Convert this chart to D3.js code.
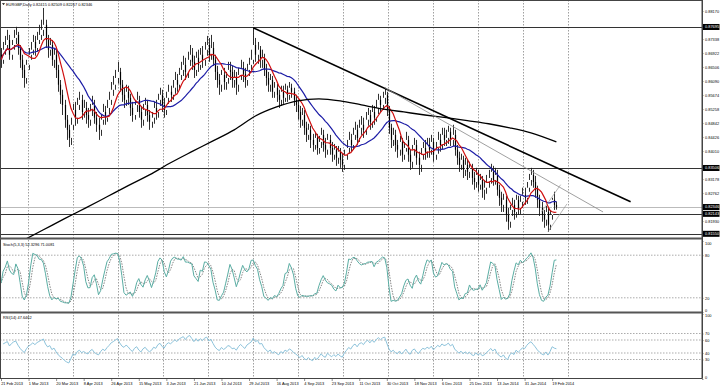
<!DOCTYPE html>
<html>
<head>
<meta charset="utf-8">
<title>EURGBP Daily</title>
<script src="https://d3js.org/d3.v7.min.js"></script>
<style>
  body { margin: 0; background: #fff; }
  svg { display: block; font-family: "Liberation Sans", Arial, sans-serif; }
  text { font-size: 3.9px; fill: #000; }
</style>
</head>
<body>
<script>
// EURGBP daily bars (open = previous close)
const firstOpen = 0.8687;
const closes = [
  0.8672, 0.8702, 0.8716, 0.8731, 0.8687, 0.8716, 0.8737, 0.8746, 0.8707, 0.8672,
  0.8642, 0.8618, 0.8657, 0.8687, 0.8702, 0.8725, 0.8707, 0.8731, 0.8746, 0.8761,
  0.8776, 0.8731, 0.8702, 0.8716, 0.8672, 0.8687, 0.8642, 0.8598, 0.8568, 0.8538,
  0.8494, 0.8464, 0.8440, 0.8479, 0.8523, 0.8500, 0.8538, 0.8553, 0.8517, 0.8529,
  0.8508, 0.8494, 0.8523, 0.8538, 0.8500, 0.8479, 0.8464, 0.8494, 0.8517, 0.8500,
  0.8529, 0.8553, 0.8583, 0.8598, 0.8618, 0.8636, 0.8598, 0.8568, 0.8553, 0.8577,
  0.8559, 0.8529, 0.8508, 0.8538, 0.8553, 0.8517, 0.8494, 0.8523, 0.8538, 0.8508,
  0.8488, 0.8500, 0.8529, 0.8517, 0.8553, 0.8568, 0.8538, 0.8523, 0.8559, 0.8577,
  0.8568, 0.8589, 0.8612, 0.8598, 0.8627, 0.8642, 0.8657, 0.8636, 0.8672, 0.8687,
  0.8666, 0.8642, 0.8678, 0.8657, 0.8687, 0.8672, 0.8702, 0.8716, 0.8687, 0.8707,
  0.8672, 0.8636, 0.8612, 0.8598, 0.8627, 0.8606, 0.8618, 0.8642, 0.8636, 0.8612,
  0.8618, 0.8598, 0.8627, 0.8648, 0.8630, 0.8612, 0.8642, 0.8657, 0.8672, 0.8716,
  0.8687, 0.8702, 0.8672, 0.8678, 0.8642, 0.8618, 0.8598, 0.8612, 0.8577, 0.8589,
  0.8568, 0.8553, 0.8577, 0.8559, 0.8583, 0.8568, 0.8589, 0.8577, 0.8553, 0.8538,
  0.8517, 0.8494, 0.8508, 0.8470, 0.8449, 0.8464, 0.8434, 0.8419, 0.8440, 0.8410,
  0.8428, 0.8449, 0.8419, 0.8405, 0.8434, 0.8410, 0.8390, 0.8405, 0.8381, 0.8399,
  0.8375, 0.8360, 0.8390, 0.8410, 0.8434, 0.8419, 0.8449, 0.8464, 0.8440, 0.8470,
  0.8479, 0.8464, 0.8494, 0.8508, 0.8488, 0.8517, 0.8500, 0.8529, 0.8553, 0.8538,
  0.8559, 0.8568, 0.8523, 0.8470, 0.8434, 0.8449, 0.8419, 0.8405, 0.8428, 0.8390,
  0.8410, 0.8434, 0.8390, 0.8369, 0.8405, 0.8419, 0.8381, 0.8360, 0.8390, 0.8410,
  0.8399, 0.8419, 0.8405, 0.8428, 0.8390, 0.8410, 0.8434, 0.8419, 0.8449, 0.8434,
  0.8440, 0.8458, 0.8434, 0.8449, 0.8405, 0.8381, 0.8360, 0.8375, 0.8345, 0.8360,
  0.8339, 0.8351, 0.8321, 0.8309, 0.8330, 0.8301, 0.8315, 0.8286, 0.8292, 0.8309,
  0.8321, 0.8339, 0.8315, 0.8330, 0.8286, 0.8262, 0.8241, 0.8256, 0.8211, 0.8191,
  0.8226, 0.8241, 0.8220, 0.8256, 0.8232, 0.8250, 0.8271, 0.8262, 0.8292, 0.8315,
  0.8330, 0.8309, 0.8286, 0.8256, 0.8232, 0.8211, 0.8197, 0.8220, 0.8182, 0.8211,
  0.8256, 0.8241, 0.82346
];
const highs = [
  0.8707, 0.8725, 0.8743, 0.8761, 0.8746, 0.8731, 0.8761, 0.8770, 0.8755, 0.8716,
  0.8687, 0.8657, 0.8672, 0.8707, 0.8725, 0.8746, 0.8743, 0.8755, 0.8776, 0.8791,
  0.8826, 0.8791, 0.8746, 0.8737, 0.8731, 0.8707, 0.8702, 0.8657, 0.8612, 0.8583,
  0.8553, 0.8508, 0.8479, 0.8500, 0.8541, 0.8547, 0.8559, 0.8577, 0.8568, 0.8553,
  0.8547, 0.8529, 0.8541, 0.8565, 0.8553, 0.8517, 0.8500, 0.8511, 0.8541, 0.8535,
  0.8553, 0.8577, 0.8606, 0.8624, 0.8642, 0.8666, 0.8648, 0.8612, 0.8589, 0.8598,
  0.8595, 0.8571, 0.8547, 0.8553, 0.8577, 0.8565, 0.8535, 0.8541, 0.8559, 0.8553,
  0.8523, 0.8517, 0.8547, 0.8553, 0.8571, 0.8589, 0.8583, 0.8559, 0.8577, 0.8598,
  0.8595, 0.8612, 0.8636, 0.8630, 0.8648, 0.8666, 0.8684, 0.8678, 0.8696, 0.8716,
  0.8707, 0.8684, 0.8696, 0.8702, 0.8707, 0.8713, 0.8725, 0.8743, 0.8737, 0.8746,
  0.8725, 0.8687, 0.8654, 0.8630, 0.8642, 0.8648, 0.8636, 0.8666, 0.8666, 0.8654,
  0.8642, 0.8636, 0.8648, 0.8672, 0.8666, 0.8648, 0.8660, 0.8678, 0.8702, 0.8767,
  0.8737, 0.8725, 0.8713, 0.8702, 0.8690, 0.8660, 0.8636, 0.8630, 0.8624, 0.8606,
  0.8601, 0.8583, 0.8595, 0.8595, 0.8601, 0.8595, 0.8606, 0.8601, 0.8589, 0.8568,
  0.8553, 0.8535, 0.8529, 0.8523, 0.8488, 0.8482, 0.8476, 0.8452, 0.8458, 0.8452,
  0.8446, 0.8470, 0.8464, 0.8440, 0.8452, 0.8449, 0.8428, 0.8422, 0.8416, 0.8416,
  0.8410, 0.8393, 0.8405, 0.8434, 0.8458, 0.8452, 0.8470, 0.8488, 0.8479, 0.8494,
  0.8505, 0.8500, 0.8517, 0.8529, 0.8523, 0.8538, 0.8535, 0.8553, 0.8571, 0.8565,
  0.8577, 0.8589, 0.8577, 0.8535, 0.8482, 0.8470, 0.8464, 0.8434, 0.8446, 0.8440,
  0.8428, 0.8458, 0.8446, 0.8405, 0.8419, 0.8440, 0.8434, 0.8399, 0.8410, 0.8428,
  0.8434, 0.8440, 0.8440, 0.8449, 0.8440, 0.8428, 0.8458, 0.8452, 0.8470, 0.8470,
  0.8464, 0.8476, 0.8470, 0.8479, 0.8464, 0.8419, 0.8399, 0.8393, 0.8387, 0.8381,
  0.8375, 0.8369, 0.8363, 0.8339, 0.8351, 0.8345, 0.8333, 0.8327, 0.8315, 0.8330,
  0.8345, 0.8363, 0.8357, 0.8351, 0.8345, 0.8301, 0.8280, 0.8274, 0.8268, 0.8232,
  0.8241, 0.8262, 0.8256, 0.8271, 0.8268, 0.8268, 0.8292, 0.8292, 0.8309, 0.8333,
  0.8351, 0.8345, 0.8327, 0.8298, 0.8271, 0.8250, 0.8226, 0.8238, 0.8232, 0.8226,
  0.8262, 0.8280, 0.82509
];
const lows = [
  0.8648, 0.8660, 0.8687, 0.8702, 0.8672, 0.8672, 0.8702, 0.8719, 0.8687, 0.8648,
  0.8618, 0.8589, 0.8601, 0.8642, 0.8672, 0.8687, 0.8684, 0.8696, 0.8719, 0.8731,
  0.8743, 0.8707, 0.8678, 0.8684, 0.8654, 0.8648, 0.8618, 0.8577, 0.8541, 0.8508,
  0.8470, 0.8434, 0.8413, 0.8419, 0.8464, 0.8476, 0.8482, 0.8523, 0.8494, 0.8500,
  0.8482, 0.8470, 0.8476, 0.8505, 0.8482, 0.8458, 0.8434, 0.8446, 0.8479, 0.8479,
  0.8488, 0.8511, 0.8538, 0.8565, 0.8583, 0.8601, 0.8577, 0.8547, 0.8529, 0.8535,
  0.8538, 0.8505, 0.8488, 0.8494, 0.8517, 0.8500, 0.8470, 0.8476, 0.8505, 0.8488,
  0.8464, 0.8470, 0.8482, 0.8494, 0.8500, 0.8535, 0.8517, 0.8500, 0.8508, 0.8541,
  0.8547, 0.8553, 0.8571, 0.8577, 0.8583, 0.8612, 0.8624, 0.8612, 0.8618, 0.8654,
  0.8642, 0.8618, 0.8624, 0.8636, 0.8642, 0.8648, 0.8654, 0.8684, 0.8666, 0.8672,
  0.8654, 0.8612, 0.8589, 0.8568, 0.8577, 0.8583, 0.8583, 0.8601, 0.8612, 0.8589,
  0.8589, 0.8568, 0.8577, 0.8612, 0.8606, 0.8589, 0.8595, 0.8624, 0.8642, 0.8660,
  0.8666, 0.8660, 0.8648, 0.8648, 0.8624, 0.8595, 0.8577, 0.8577, 0.8559, 0.8559,
  0.8547, 0.8529, 0.8535, 0.8541, 0.8547, 0.8547, 0.8553, 0.8559, 0.8535, 0.8517,
  0.8494, 0.8470, 0.8476, 0.8449, 0.8428, 0.8434, 0.8410, 0.8399, 0.8405, 0.8390,
  0.8393, 0.8410, 0.8399, 0.8381, 0.8390, 0.8390, 0.8369, 0.8375, 0.8357, 0.8363,
  0.8351, 0.8339, 0.8345, 0.8375, 0.8393, 0.8399, 0.8405, 0.8434, 0.8419, 0.8428,
  0.8449, 0.8440, 0.8449, 0.8476, 0.8464, 0.8470, 0.8479, 0.8488, 0.8511, 0.8517,
  0.8523, 0.8541, 0.8505, 0.8452, 0.8410, 0.8416, 0.8399, 0.8381, 0.8387, 0.8369,
  0.8375, 0.8399, 0.8369, 0.8345, 0.8351, 0.8387, 0.8360, 0.8330, 0.8339, 0.8375,
  0.8375, 0.8381, 0.8381, 0.8390, 0.8369, 0.8375, 0.8393, 0.8399, 0.8405, 0.8416,
  0.8416, 0.8422, 0.8416, 0.8416, 0.8387, 0.8360, 0.8339, 0.8345, 0.8321, 0.8327,
  0.8315, 0.8321, 0.8301, 0.8286, 0.8292, 0.8280, 0.8286, 0.8262, 0.8256, 0.8274,
  0.8292, 0.8304, 0.8298, 0.8301, 0.8268, 0.8238, 0.8220, 0.8220, 0.8191, 0.8167,
  0.8173, 0.8208, 0.8197, 0.8203, 0.8211, 0.8214, 0.8232, 0.8241, 0.8244, 0.8280,
  0.8298, 0.8292, 0.8262, 0.8232, 0.8208, 0.8191, 0.8173, 0.8179, 0.8161, 0.8167,
  0.8197, 0.8226, 0.82267
];

// 200-day moving average, read at every 10th bar (it runs in from the bottom left)
const ma200Bars = [10, 20, 30, 40, 50, 60, 70, 80, 90, 100, 110, 120, 130, 140, 150, 160, 170, 180, 190, 200, 210, 220, 230, 240, 250, 262];
const ma200Vals = [0.8134, 0.8167, 0.8200, 0.8232, 0.8265, 0.8298, 0.8330, 0.8366, 0.8399, 0.8431, 0.8464, 0.8505, 0.8532,
                   0.8550, 0.8556, 0.8550, 0.8538, 0.8526, 0.8517, 0.8508, 0.8500, 0.8491, 0.8482, 0.8470, 0.8455, 0.8428];

// drawn objects: [bar, price] end points
const mainTrend = [[119, 0.8767], [297, 0.8250]];
const innerTrend = [[181, 0.8589], [284, 0.8220]];
const channelA = [[255, 0.8220], [264, 0.8301]];
const channelB = [[258, 0.8161], [267, 0.8244]];
const levels = [0.87695, 0.83506, 0.82143, 0.81550];
const lastPrice = 0.82346;

const priceTicks = [0.88170, 0.87754, 0.87338, 0.86922, 0.86506, 0.86090, 0.85674, 0.85258, 0.84842,
                    0.84426, 0.84010, 0.83594, 0.83178, 0.82762, 0.81930];
const dateBars = [0, 13, 26, 39, 52, 65, 78, 91, 104, 117, 130, 143, 156, 169, 182, 195, 208, 221, 234, 247, 260];
const dateLabels = ["21 Feb 2013", "1 Mar 2013", "20 Mar 2013", "8 Apr 2013", "26 Apr 2013", "15 May 2013", "3 Jun 2013",
  "21 Jun 2013", "10 Jul 2013", "29 Jul 2013", "16 Aug 2013", "4 Sep 2013", "23 Sep 2013", "11 Oct 2013", "30 Oct 2013",
  "18 Nov 2013", "6 Dec 2013", "25 Dec 2013", "13 Jan 2014", "31 Jan 2014", "19 Feb 2014"];
const stochLevels = [80, 20];
const rsiLevels = [70, 60, 40, 30];

const title = "EURGBP,Daily  0.82415 0.82509 0.82267 0.82346";
const stochTitle = "Stoch(5,3,3) 52.3296 71.0081";
const rsiTitle = "RSI(14) 47.6462";

// ---- indicators
const N = closes.length;
const bars = closes.map((c, i) => ({ i, o: i ? closes[i - 1] : firstOpen, h: highs[i], l: lows[i], c }));

function sma(arr, n) {
  return arr.map((_, i) => d3.mean(arr.slice(Math.max(0, i - n + 1), i + 1)));
}
const maFast = sma(closes, 8);
const maSlow = sma(closes, 21);

const lowK = closes.map((_, i) => d3.min(lows.slice(Math.max(0, i - 4), i + 1)));
const highK = closes.map((_, i) => d3.max(highs.slice(Math.max(0, i - 4), i + 1)));
const stochMain = closes.map((_, i) => {
  let num = 0, den = 0;
  for (let j = Math.max(0, i - 2); j <= i; j++) { num += closes[j] - lowK[j]; den += highK[j] - lowK[j]; }
  return den ? 100 * num / den : 50;
});
const stochSignal = sma(stochMain, 3);

// RSI 14, Wilder smoothing; warm-up starts neutral from the mean move of the first 14 bars
const moves = d3.range(1, 15).map(i => Math.abs(closes[i] - closes[i - 1]));
let avgG = d3.mean(moves) / 2, avgL = d3.mean(moves) / 2;
const rsi = [];
for (let i = 1; i < N; i++) {
  const ch = closes[i] - closes[i - 1];
  avgG = (avgG * 13 + Math.max(ch, 0)) / 14;
  avgL = (avgL * 13 + Math.max(-ch, 0)) / 14;
  rsi.push({ i, v: avgL === 0 ? 100 : 100 - 100 / (1 + avgG / avgL) });
}

// ---- layout
const width = 720, height = 387;
const plotR = 702;
const mainB = 238, stochT = 239.5, stochB = 312, rsiT = 313.5, rsiB = 378.5;

const svg = d3.select("body").append("svg").attr("width", width).attr("height", height);

const x = d3.scaleLinear().domain([0, 262]).range([1, 556.4]);
const y = d3.scaleLinear().domain([0.814258, 0.884968]).range([mainB, 0]);
const yS = d3.scaleLinear().domain([0, 100]).range([312, 241]);
const yR = d3.scaleLinear().domain([0, 100]).range([379, 314]);

const defs = svg.append("defs");
defs.append("clipPath").attr("id", "cMain").append("rect").attr("x", 0).attr("y", 0).attr("width", plotR).attr("height", mainB);
defs.append("clipPath").attr("id", "cStoch").append("rect").attr("x", 0).attr("y", stochT).attr("width", plotR).attr("height", stochB - stochT);
defs.append("clipPath").attr("id", "cRsi").append("rect").attr("x", 0).attr("y", rsiT).attr("width", plotR).attr("height", rsiB - rsiT);

// vertical dotted grid
const gridX = d3.range(13).map(k => 28.5 + 45 * k);
svg.append("g").selectAll("line").data(gridX).join("line")
  .attr("x1", d => d).attr("x2", d => d).attr("y1", 0).attr("y2", rsiB)
  .attr("stroke", "#777").attr("stroke-width", 0.7).attr("stroke-dasharray", "1.5,1.5");

// ---- main panel
const main = svg.append("g").attr("clip-path", "url(#cMain)");

main.selectAll("line.level").data(levels).join("line").attr("class", "level")
  .attr("x1", 0).attr("x2", plotR)
  .attr("y1", d => Math.round(y(d)) + 0.5).attr("y2", d => Math.round(y(d)) + 0.5)
  .attr("stroke", "#333").attr("stroke-width", 1);
main.append("line")
  .attr("x1", 0).attr("x2", plotR)
  .attr("y1", Math.round(y(lastPrice)) + 0.5).attr("y2", Math.round(y(lastPrice)) + 0.5)
  .attr("stroke", "#bbb").attr("stroke-width", 1);

const px = d => Math.round(x(d.i));
main.append("g").selectAll("line").data(bars).join("line")
  .attr("x1", d => px(d) + 0.5).attr("x2", d => px(d) + 0.5)
  .attr("y1", d => y(d.h)).attr("y2", d => y(d.l))
  .attr("stroke", "#1a1a1a").attr("stroke-width", 0.9);
main.append("g").selectAll("rect").data(bars).join("rect")
  .attr("x", d => px(d) - 0.1).attr("width", 1.2)
  .attr("y", d => y(Math.max(d.o, d.c)))
  .attr("height", d => Math.max(0.6, Math.abs(y(d.o) - y(d.c))))
  .attr("fill", d => d.c >= d.o ? "#fff" : "#000");

const priceLine = d3.line().x((d, i) => x(i)).y(d => y(d));
main.append("path").datum(maSlow).attr("d", priceLine).attr("fill", "none").attr("stroke", "#1c1ca6").attr("stroke-width", 1.2);
main.append("path").datum(maFast).attr("d", priceLine).attr("fill", "none").attr("stroke", "#d01010").attr("stroke-width", 1.2);

const ma200 = ma200Bars.map((b, k) => [b, ma200Vals[k]]);
main.append("path").datum(ma200)
  .attr("d", d3.line().x(d => x(d[0])).y(d => y(d[1])).curve(d3.curveMonotoneX))
  .attr("fill", "none").attr("stroke", "#000").attr("stroke-width", 1.3);

const seg = d3.line().x(d => x(d[0])).y(d => y(d[1]));
main.append("path").datum(mainTrend).attr("d", seg).attr("stroke", "#000").attr("stroke-width", 1.6);
main.append("path").datum(innerTrend).attr("d", seg).attr("stroke", "#888").attr("stroke-width", 0.8);
main.append("path").datum(channelA).attr("d", seg).attr("stroke", "#999").attr("stroke-width", 0.7);
main.append("path").datum(channelB).attr("d", seg).attr("stroke", "#999").attr("stroke-width", 0.7);

svg.append("path").attr("d", "M2,3.2 L5,3.2 L3.5,5 Z").attr("fill", "#000");
svg.append("text").attr("x", 6).attr("y", 6).text(title);

// ---- stochastic panel
const stoch = svg.append("g").attr("clip-path", "url(#cStoch)");
stoch.selectAll("line").data(stochLevels).join("line")
  .attr("x1", 0).attr("x2", plotR).attr("y1", d => yS(d)).attr("y2", d => yS(d))
  .attr("stroke", "#888").attr("stroke-width", 0.7).attr("stroke-dasharray", "1.5,1.5");
const sLine = d3.line().x((d, i) => x(i)).y(d => yS(d));
stoch.append("path").datum(stochSignal).attr("d", sLine).attr("fill", "none")
  .attr("stroke", "#666").attr("stroke-width", 0.8).attr("stroke-dasharray", "1.5,1.2");
stoch.append("path").datum(stochMain).attr("d", sLine).attr("fill", "none")
  .attr("stroke", "#5aada3").attr("stroke-width", 1);
svg.append("text").attr("x", 3).attr("y", 246).text(stochTitle);

// ---- RSI panel
const rsiG = svg.append("g").attr("clip-path", "url(#cRsi)");
rsiG.selectAll("line").data(rsiLevels).join("line")
  .attr("x1", 0).attr("x2", plotR).attr("y1", d => yR(d)).attr("y2", d => yR(d))
  .attr("stroke", "#888").attr("stroke-width", 0.7).attr("stroke-dasharray", "1.5,1.5");
rsiG.append("path").datum(rsi)
  .attr("d", d3.line().x(d => x(d.i)).y(d => yR(d.v)))
  .attr("fill", "none").attr("stroke", "#8cc2da").attr("stroke-width", 1);
svg.append("text").attr("x", 3).attr("y", 319).text(rsiTitle);

// ---- frames and separators
svg.append("rect").attr("x", 0.5).attr("y", 0.5).attr("width", plotR - 0.5).attr("height", rsiB - 0.5)
  .attr("fill", "none").attr("stroke", "#444").attr("stroke-width", 1);
[mainB + 0.5, stochB + 0.5].forEach(v => {
  svg.append("line").attr("x1", 0).attr("x2", plotR).attr("y1", v).attr("y2", v)
    .attr("stroke", "#555").attr("stroke-width", 2);
});

// ---- right axes
const axisStyle = g => {
  g.select(".domain").remove();
  g.selectAll(".tick line").attr("stroke", "#444").attr("stroke-width", 0.6);
  g.selectAll(".tick text").attr("font-size", "3.9px").attr("fill", "#000");
};
const tagData = levels.concat([lastPrice]);
// regular price labels hidden behind a tag are left out
const freeTicks = priceTicks.filter(t => tagData.every(p => Math.abs(y(t) - y(p)) > 6));
svg.append("g").attr("transform", `translate(${plotR},0)`)
  .call(d3.axisRight(y).tickValues(freeTicks).tickFormat(d3.format(".5f")).tickSize(1.5).tickPadding(1.5))
  .call(axisStyle);

const tags = svg.append("g").attr("transform", `translate(${plotR},0)`);
tags.selectAll("rect").data(tagData).join("rect")
  .attr("x", 0.5).attr("y", d => y(d) - 3).attr("width", 17).attr("height", 6).attr("fill", "#000");
tags.selectAll("text").data(tagData).join("text")
  .attr("x", 3).attr("y", d => y(d)).attr("dy", "0.35em")
  .style("fill", "#fff").text(d => d3.format(".5f")(d));

svg.append("g").attr("transform", `translate(${plotR},0)`)
  .call(d3.axisRight(yS).tickValues([100, 80, 20, 0]).tickSize(1.5).tickPadding(1.5))
  .call(axisStyle)
  .call(g => g.selectAll(".tick text").attr("dy", d => d === 100 ? "0.9em" : d === 0 ? "-0.2em" : "0.32em"));
svg.append("g").attr("transform", `translate(${plotR},0)`)
  .call(d3.axisRight(yR).tickValues([100, 70, 60, 40, 30, 0]).tickSize(1.5).tickPadding(1.5))
  .call(axisStyle)
  .call(g => g.selectAll(".tick text").attr("dy", d => d === 100 ? "0.7em" : d === 0 ? "-0.1em" : "0.32em"));

svg.append("line").attr("x1", plotR + 0.5).attr("x2", plotR + 0.5).attr("y1", 0).attr("y2", rsiB)
  .attr("stroke", "#444").attr("stroke-width", 1);

// ---- time axis
const xa = svg.append("g").attr("transform", `translate(0,${rsiB})`)
  .call(d3.axisBottom(x).tickValues(dateBars).tickFormat((d, k) => dateLabels[k]).tickSize(2.5).tickPadding(1.5))
  .call(axisStyle);
xa.selectAll(".tick text").attr("text-anchor", "start").attr("dx", "-0.1em");
</script>
</body>
</html>
